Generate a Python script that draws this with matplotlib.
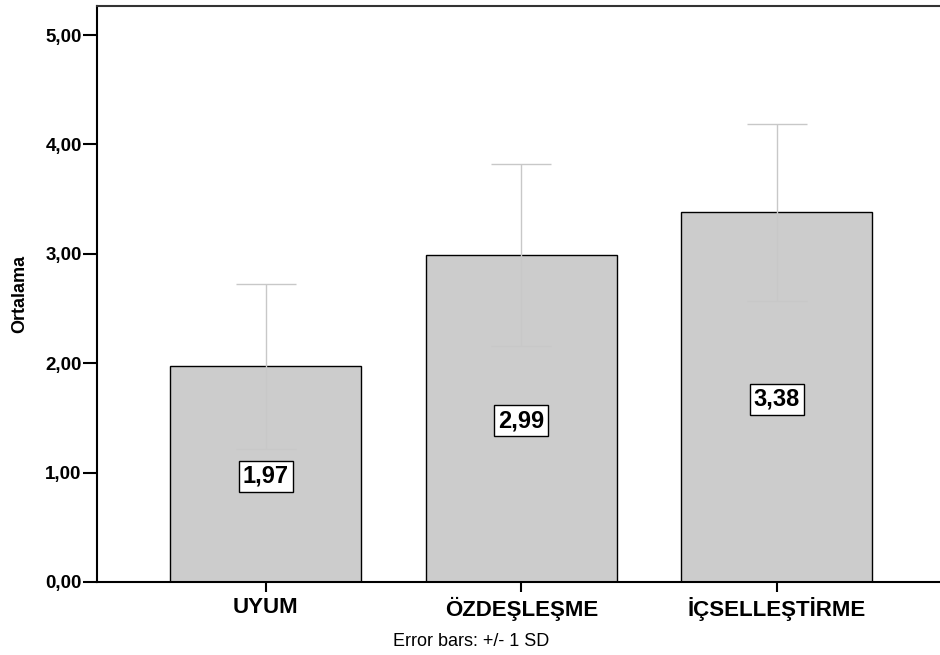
import matplotlib
matplotlib.use('Agg')
import numpy as np
import matplotlib.pyplot as plt

plt.rcParams['font.family'] = ['Liberation Sans', 'DejaVu Sans']

categories = ['UYUM', 'ÖZDEŞLEŞME', 'İÇSELLEŞTİRME']
means = [1.97, 2.99, 3.38]
sds = [0.75, 0.83, 0.81]
mean_labels = ['1,97', '2,99', '3,38']
yticks = [0, 1, 2, 3, 4, 5]
ytick_labels = ['0,00', '1,00', '2,00', '3,00', '4,00', '5,00']

fig = plt.figure(figsize=(9.4, 6.55), dpi=100)
ax = fig.add_axes([0.1032, 0.1115, 0.8968 + 0.01, 0.8793])

x = np.arange(len(categories))
ax.bar(x, means, width=0.748, color='#cccccc', edgecolor='black', linewidth=1, zorder=2)
ax.errorbar(x, means, yerr=sds, fmt='none', ecolor='#c8c8c8', elinewidth=1,
            capsize=21.5, capthick=1, zorder=3)

# value boxes sit halfway up each bar
for xi, m, lab in zip(x, means, mean_labels):
    ax.text(xi, m / 2 - 0.02, lab, ha='center', va='center', fontsize=17, fontweight='bold',
            zorder=4, bbox=dict(boxstyle='square,pad=0.17', facecolor='white',
                                edgecolor='black', linewidth=1))

ax.set_xlim(-0.661, 2.675)
ax.set_ylim(0, 5.265)
ax.set_xticks(x)
ax.set_xticklabels(categories, fontsize=16, fontweight='bold')
ax.set_yticks(yticks)
ax.set_yticklabels(ytick_labels, fontsize=13.5, fontweight='bold')
ax.tick_params(axis='y', direction='out', length=10, width=1.5, pad=1)
ax.tick_params(axis='x', direction='out', length=7, width=1.5, pad=4)
ax.set_ylabel('Ortalama', fontsize=13, fontweight='bold', labelpad=12)

for side in ['left', 'bottom']:
    ax.spines[side].set_linewidth(1.5)
ax.spines['top'].set_linewidth(1.5)
ax.spines['top'].set_color('#333333')
ax.spines['right'].set_visible(False)

fig.text(0.501, 0.021, 'Error bars: +/- 1 SD', ha='center', va='center', fontsize=13)

fig.savefig('out.png', dpi=100)
